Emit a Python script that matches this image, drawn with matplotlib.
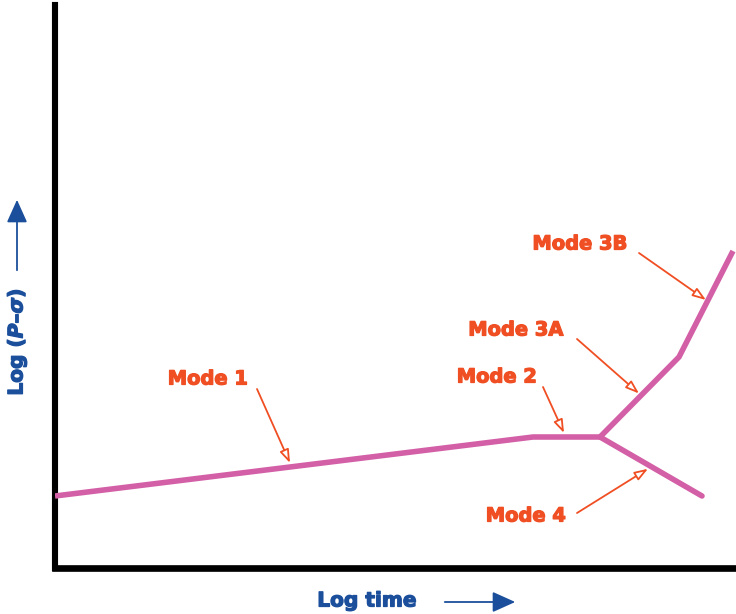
import numpy as np
import matplotlib
matplotlib.use("Agg")
import matplotlib.pyplot as plt
import matplotlib.patheffects as pe

plt.rcParams['mathtext.fontset'] = 'custom'
plt.rcParams['mathtext.it'] = 'DejaVu Sans:italic:bold'
plt.rcParams['mathtext.rm'] = 'DejaVu Sans:bold'

# Degradation path: log time vs log(P - sigma)
main_time = [0, 478, 545, 624, 678]
main_level = [72, 131, 131, 211, 317]
mode4_time = [545, 647]
mode4_level = [131, 72]

mode_labels = ["Mode 1", "Mode 2", "Mode 3A", "Mode 3B", "Mode 4"]
label_xy = [(153, 189), (442, 191), (461, 238), (525, 324), (471, 52)]
arrow_start = [(202, 179), (488, 181), (522, 229), (584, 315), (522, 55)]
arrow_tip_time = [235, 509, 584, 651, 593]
arrow_branch = ["main", "main", "main", "main", "mode4"]

PINK = "#D35FA6"
ORANGE = "#F04E23"
BLUE = "#1B4F9C"

fig = plt.figure(figsize=(7.36, 6.14), dpi=100)
ax = fig.add_axes([55 / 736, 46 / 614, 681 / 736, 563 / 614])
ax.set_xlim(0, 681)
ax.set_ylim(0, 563)

ax.plot(main_time, main_level, color=PINK, lw=4.0, solid_joinstyle="miter",
        solid_capstyle="butt", zorder=3)
ax.plot(mode4_time, mode4_level, color=PINK, lw=4.0, solid_capstyle="round", zorder=3)

heavy_orange = [pe.withStroke(linewidth=0.9, foreground=ORANGE)]
heavy_blue = [pe.withStroke(linewidth=0.9, foreground=BLUE)]

for lab, (tx, ty), (sx, sy), tip_t, br in zip(mode_labels, label_xy, arrow_start,
                                             arrow_tip_time, arrow_branch):
    if br == "main":
        tip_y = np.interp(tip_t, main_time, main_level)
    else:
        tip_y = np.interp(tip_t, mode4_time, mode4_level)
    ax.text(tx, ty, lab, color=ORANGE, fontsize=14, fontweight="bold",
            family="DejaVu Sans", ha="center", va="center", path_effects=heavy_orange)
    off = 4 if br == "main" else -4
    ax.annotate("", xy=(tip_t, tip_y + off), xytext=(sx, sy),
                arrowprops=dict(arrowstyle="-|>,head_length=0.8,head_width=0.28",
                                color=ORANGE, lw=1.3, fc="white",
                                shrinkA=0, shrinkB=0), zorder=4)

for side in ["top", "right"]:
    ax.spines[side].set_visible(False)
ax.spines["left"].set_linewidth(4.4)
ax.spines["bottom"].set_linewidth(4.8)
for side in ["left", "bottom"]:
    ax.spines[side].set_capstyle("projecting")
    ax.spines[side].set_color("black")
ax.set_xticks([])
ax.set_yticks([])

# Axis captions with direction arrows
fig.text(367 / 736, 1 - 601 / 614, "Log time", color=BLUE, fontsize=14.5,
         fontweight="bold", family="DejaVu Sans", ha="center", va="center",
         path_effects=heavy_blue)
fig.text(17 / 736, 1 - 342 / 614, r"Log ($P$–$\sigma$)", color=BLUE, fontsize=14.5,
         fontweight="bold", family="DejaVu Sans", ha="center", va="center",
         rotation=90, path_effects=heavy_blue)
fig.patches.append(matplotlib.patches.FancyArrowPatch(
    (442 / 736, 1 - 602 / 614), (518 / 736, 1 - 602 / 614),
    transform=fig.transFigure, arrowstyle="-|>,head_length=1.0,head_width=0.45",
    color=BLUE, lw=1.3, mutation_scale=14))
fig.patches.append(matplotlib.patches.FancyArrowPatch(
    (17 / 736, 1 - 273 / 614), (17 / 736, 1 - 197 / 614),
    transform=fig.transFigure, arrowstyle="-|>,head_length=1.0,head_width=0.45",
    color=BLUE, lw=1.3, mutation_scale=14))

fig.savefig("out.png", dpi=100, facecolor="white")
